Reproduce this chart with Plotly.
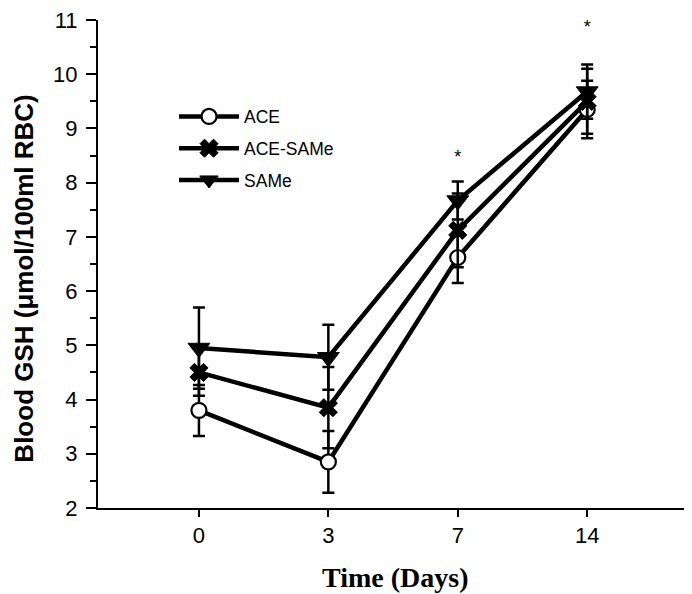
import plotly.graph_objects as go

days = ["0", "3", "7", "14"]
ace = [3.8, 2.85, 6.62, 9.35]
ace_err = [0.47, 0.57, 0.47, 0.53]
ace_same = [4.5, 3.85, 7.12, 9.5]
ace_same_err = [0.43, 0.75, 0.68, 0.6]
same = [4.95, 4.78, 7.67, 9.68]
same_err = [0.75, 0.6, 0.35, 0.5]
star_days = ["7", "14"]
star_y = [8.45, 10.84]

fig = go.Figure()

def add(name, y, err, marker):
    fig.add_trace(go.Scatter(
        x=days, y=y, name=name, mode="lines+markers", legendgroup=name,
        line=dict(color="black", width=4.5),
        marker=marker,
        error_y=dict(type="data", array=err, visible=True, color="black", thickness=2.5, width=6),
    ))

add("ACE", ace, ace_err, dict(symbol="circle", size=15, color="white", line=dict(color="black", width=2.2)))
add("ACE-SAMe", ace_same, ace_same_err, dict(symbol="x", size=16, color="black", line=dict(color="black", width=1)))
add("SAMe", same, same_err, dict(symbol="triangle-down", size=19, color="black", line=dict(color="black", width=1)))

fig.add_trace(go.Scatter(x=star_days, y=star_y, mode="text", text=["*", "*"],
                         textfont=dict(family="Liberation Sans, Arial", size=18, color="black"),
                         showlegend=False, hoverinfo="skip", cliponaxis=False))

fig.update_layout(
    width=684, height=586,
    margin=dict(l=90, r=0, t=8, b=86),
    plot_bgcolor="white", paper_bgcolor="white",
    font=dict(family="Liberation Sans, Arial", color="black"),
    showlegend=True,
    legend=dict(x=0.128, y=0.839, xanchor="left", yanchor="top",
                font=dict(family="Liberation Sans, Arial", size=17.5, color="black"),
                bgcolor="rgba(0,0,0,0)", tracegroupgap=6, itemwidth=60),
    xaxis=dict(
        type="category", range=[-0.78, 3.81],
        showline=True, linecolor="black", linewidth=2,
        ticks="outside", ticklen=7, tickwidth=2, tickcolor="black",
        tickfont=dict(family="Liberation Sans, Arial", size=22),
        showgrid=False, zeroline=False,
    ),
    yaxis=dict(
        range=[2, 11], dtick=1, tick0=2,
        showline=True, linecolor="black", linewidth=2,
        ticks="outside", ticklen=10, tickwidth=2, tickcolor="black",
        minor=dict(ticks="outside", ticklen=6, tickwidth=2, tickcolor="black", dtick=0.5),
        tickfont=dict(family="Liberation Sans, Arial", size=22),
        ticklabelstandoff=4, ticklabeloverflow="allow",
        showgrid=False, zeroline=False,
    ),
    annotations=[
        dict(text="<b>Blood GSH (μmol/100ml RBC)</b>", xref="paper", yref="paper",
             x=-0.125, y=0.4695, xanchor="center", yanchor="middle", textangle=-90, showarrow=False,
             font=dict(family="Liberation Sans, Arial", size=26, color="black")),
        dict(text="<b>Time (Days)</b>", xref="paper", yref="paper",
             x=0.5, y=-0.142, xanchor="center", yanchor="middle", showarrow=False,
             font=dict(family="Liberation Serif, Times New Roman", size=28, color="black")),
    ],
)

fig.write_html("out.html")
